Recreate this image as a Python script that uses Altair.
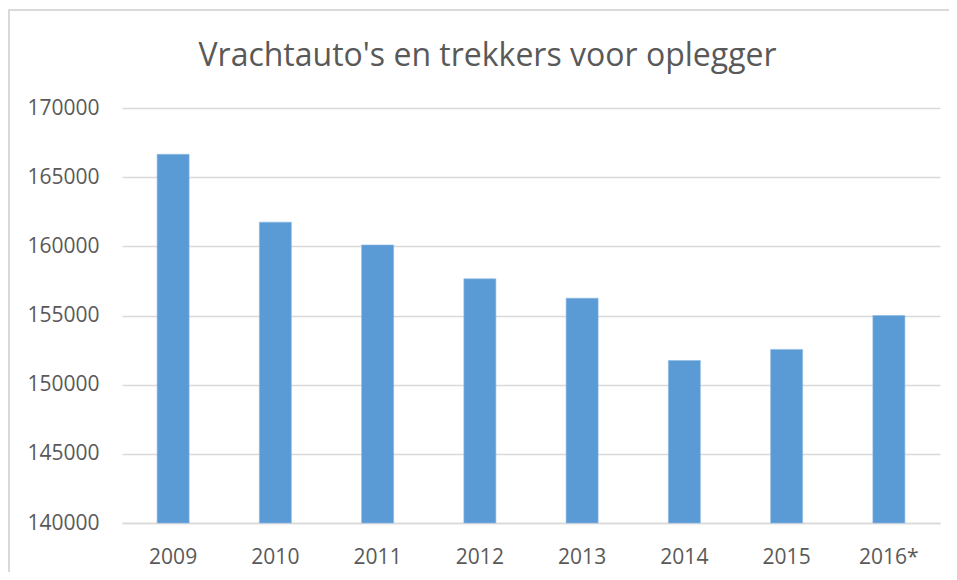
import altair as alt
import pandas as pd

years = ["2009", "2010", "2011", "2012", "2013", "2014", "2015", "2016*"]
values = [166650, 161750, 160100, 157650, 156250, 151750, 152550, 155000]
y_ticks = [140000, 145000, 150000, 155000, 160000, 165000, 170000]
y_min, y_max = 140000, 170000

df = pd.DataFrame({"jaar": years, "aantal": values})

FONT = "Open Sans"
TXT = "#595959"
GRID = "#D9D9D9"

bars = alt.Chart(df).mark_bar(color="#5B9BD5", stroke="#8DB8E2", strokeWidth=0.6).encode(
    x=alt.X(
        "jaar:N",
        sort=years,
        scale=alt.Scale(paddingInner=0.687, paddingOuter=0.3435),
        axis=alt.Axis(
            title=None, labelAngle=0, ticks=False, domain=True, domainColor=GRID,
            domainWidth=1.3, labelPadding=23, labelFont=FONT, labelFontSize=21,
            labelColor=TXT, grid=False,
        ),
    ),
    y=alt.Y(
        "aantal:Q",
        scale=alt.Scale(domain=[y_min, y_max], zero=False, nice=False),
        axis=alt.Axis(
            title=None, values=y_ticks, format="d", ticks=False, domain=False,
            labelPadding=23, labelFont=FONT, labelFontSize=21, labelColor=TXT,
            grid=True, gridColor=GRID, gridWidth=1.3,
        ),
    ),
    y2=alt.datum(y_min),
)

border_top = alt.Chart(df).mark_rule(color=GRID, strokeWidth=1.5).encode(
    x=alt.value(-113), x2=alt.value(850), y=alt.value(-98.3)
)
border_left = alt.Chart(df).mark_rule(color=GRID, strokeWidth=1.5).encode(
    x=alt.value(-113), y=alt.value(-98.3), y2=alt.value(480)
)

chart = alt.layer(border_top, border_left, bars).properties(
    width=818,
    height=415,
    background="white",
    title=alt.TitleParams(
        "Vrachtauto's en trekkers voor oplegger",
        font=FONT, fontSize=32, fontWeight="normal", color=TXT,
        anchor="middle", frame="group", baseline="alphabetic", offset=-89, dx=-43.5,
    ),
    autosize=alt.AutoSizeParams(type="none"),
    padding={"left": 114, "top": 100, "right": 9, "bottom": 49},
).configure_view(stroke=None)

chart.save("out.html", embed_options={"renderer": "svg", "actions": False})
